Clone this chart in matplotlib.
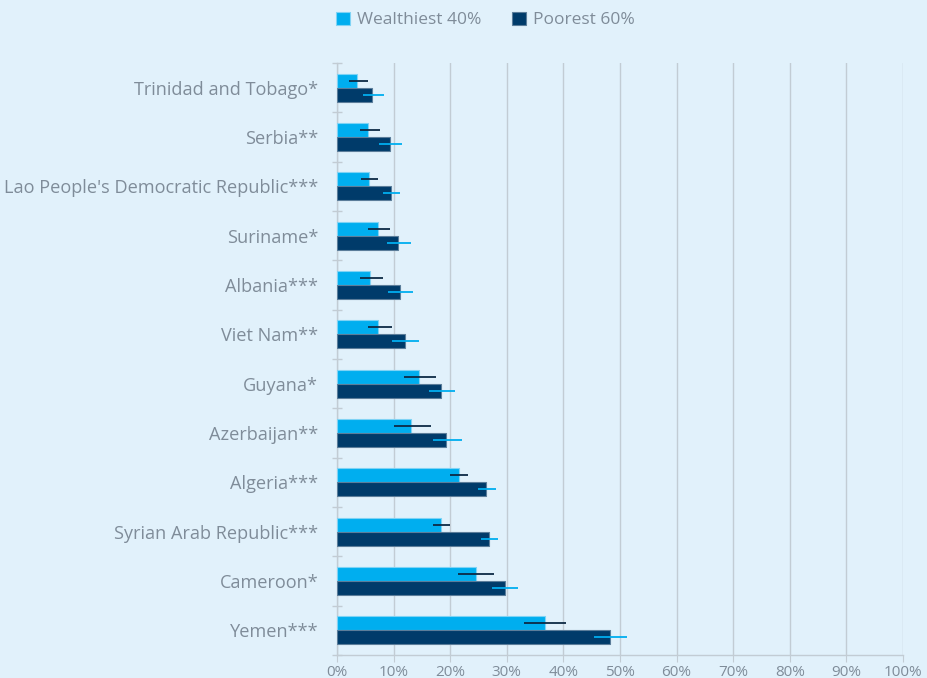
import numpy as np
import matplotlib
matplotlib.use('Agg')
import matplotlib.pyplot as plt
from matplotlib.ticker import PercentFormatter

plt.rcParams['font.family'] = ['Open Sans', 'DejaVu Sans']

# data (percent)
countries = ['Trinidad and Tobago*', 'Serbia**', "Lao People's Democratic Republic***",
             'Suriname*', 'Albania***', 'Viet Nam**', 'Guyana*', 'Azerbaijan**',
             'Algeria***', 'Syrian Arab Republic***', 'Cameroon*', 'Yemen***']
wealthiest = [3.5, 5.5, 5.6, 7.2, 5.8, 7.2, 14.4, 13.0, 21.6, 18.4, 24.5, 36.8]
wealthiest_lo = [2.2, 4.0, 4.2, 5.4, 4.1, 5.4, 11.8, 10.1, 20.0, 16.9, 21.4, 33.1]
wealthiest_hi = [5.5, 7.6, 7.2, 9.4, 8.1, 9.7, 17.5, 16.6, 23.1, 20.0, 27.8, 40.5]
poorest = [6.2, 9.3, 9.5, 10.8, 11.1, 12.0, 18.4, 19.3, 26.4, 26.9, 29.6, 48.2]
poorest_lo = [4.6, 7.5, 8.2, 8.8, 9.0, 9.8, 16.3, 17.0, 24.9, 25.4, 27.4, 45.4]
poorest_hi = [8.3, 11.5, 11.1, 13.0, 13.5, 14.4, 20.8, 22.1, 28.1, 28.5, 31.9, 51.3]

bg = '#e1f1fb'
light = '#00aeef'
dark = '#003b6a'
textcol = '#7f8c99'
gridcol = '#c2ccd4'

fig = plt.figure(figsize=(9.28, 6.78), dpi=100, facecolor=bg)
ax = fig.add_axes([337/928, 1-655/678, (903-337)/928, (655-63)/678])
ax.set_facecolor(bg)

y = np.arange(len(countries))
h = 0.285
w = np.array(wealthiest)
p = np.array(poorest)

ax.barh(y - h/2, w, height=h, color=light, edgecolor='#7fd3f5', linewidth=0.8,
        label='Wealthiest 40%', zorder=3)
ax.barh(y + h/2, p, height=h, color=dark, edgecolor='#5b7d9a', linewidth=0.8,
        label='Poorest 60%', zorder=3)

werr = [w - np.array(wealthiest_lo), np.array(wealthiest_hi) - w]
perr = [p - np.array(poorest_lo), np.array(poorest_hi) - p]
ax.errorbar(w, y - h/2, xerr=werr, fmt='none', ecolor='#0d2a45', elinewidth=1.3,
            capsize=0, zorder=4)
ax.errorbar(p, y + h/2, xerr=perr, fmt='none', ecolor=light, elinewidth=1.3,
            capsize=0, zorder=4)

ax.set_xlim(0, 100)
ax.set_ylim(len(countries) - 0.5, -0.5)
ax.xaxis.set_major_formatter(PercentFormatter(decimals=0))
ax.set_xticks(np.arange(0, 101, 10))

# category labels sit between separator ticks
ax.set_yticks(np.arange(-0.5, len(countries), 1))
ax.set_yticklabels([])
ax.set_yticks(y, minor=True)
ax.set_yticklabels(countries, minor=True)
ax.tick_params(axis='y', which='minor', length=0, labelsize=13.1, labelcolor=textcol, pad=13.5)
ax.tick_params(axis='y', which='major', length=7, color=gridcol, direction='inout', width=1)
ax.tick_params(axis='x', length=5, color=gridcol, direction='out', labelsize=11,
               labelcolor=textcol, pad=2)

ax.grid(axis='x', color=gridcol, linewidth=1, zorder=0)
for s in ['top', 'right']:
    ax.spines[s].set_visible(False)
for s in ['left', 'bottom']:
    ax.spines[s].set_color(gridcol)
    ax.spines[s].set_linewidth(1)

fig.legend(loc='upper center', bbox_to_anchor=(0.523, 1.006), ncol=2, frameon=False,
           fontsize=12.5, labelcolor=textcol, handlelength=0.8, handleheight=0.8,
           columnspacing=1.8, handletextpad=0.4)

fig.savefig('out.png', dpi=100, facecolor=bg)
